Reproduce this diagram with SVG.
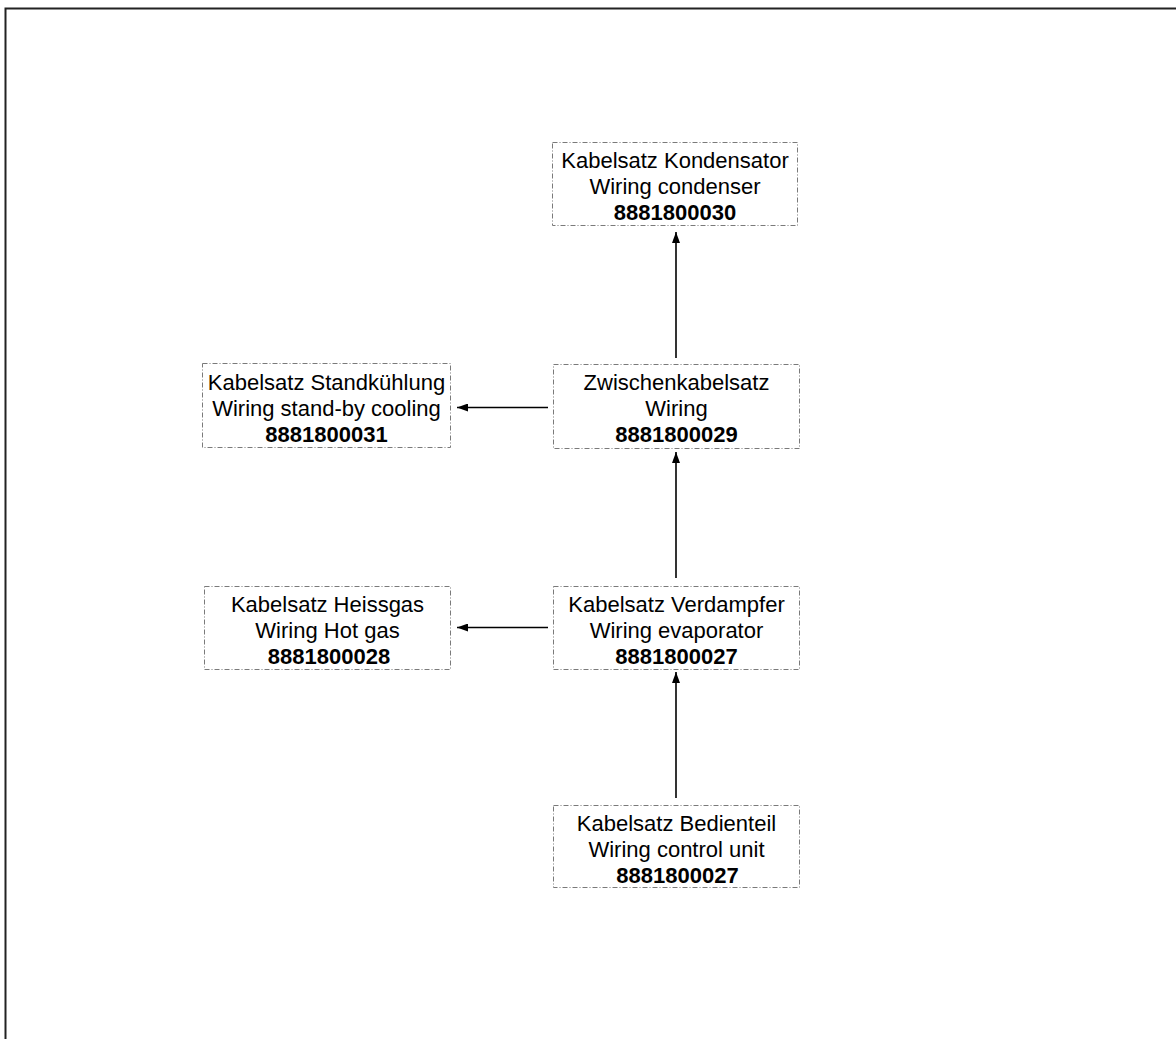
<svg xmlns="http://www.w3.org/2000/svg" width="1176" height="1039" viewBox="0 0 1176 1039">
  <style>
    .box { fill: #ffffff; stroke: #7a7a7a; stroke-width: 1; stroke-dasharray: 5 2 1 2; }
    .t { font-family: "Liberation Sans", Arial, sans-serif; font-size: 22px; fill: #000; text-anchor: middle; }
    .n { font-weight: bold; }
    .wire { stroke: #000; stroke-width: 1.6; fill: none; marker-end: url(#arrow); }
  </style>
  <defs>
    <marker id="arrow" viewBox="0 0 11 8" refX="11" refY="4" markerWidth="11" markerHeight="8" markerUnits="userSpaceOnUse" orient="auto">
      <path d="M0,0 L11,4 L0,8 Z" fill="#000"/>
    </marker>
  </defs>

  <rect width="1176" height="1039" fill="#ffffff"/>
  <!-- sheet frame -->
  <path d="M5.5,1039 L5.5,8.5 L1176,8.5" fill="none" stroke="#222" stroke-width="2"/>

  <g id="connectors">
    <line class="wire" x1="676" y1="358" x2="676" y2="232"/>
    <line class="wire" x1="676" y1="578" x2="676" y2="452"/>
    <line class="wire" x1="676" y1="798" x2="676" y2="672"/>
    <line class="wire" x1="548" y1="407.5" x2="457" y2="407.5"/>
    <line class="wire" x1="548" y1="627.5" x2="457" y2="627.5"/>
  </g>

  <g id="kondensator">
    <rect class="box" x="552.5" y="142.5" width="245" height="83"/>
    <text class="t" x="675" y="168">Kabelsatz Kondensator</text>
    <text class="t" x="675" y="194">Wiring condenser</text>
    <text class="t n" x="675" y="220">8881800030</text>
  </g>

  <g id="standkuehlung">
    <rect class="box" x="202.5" y="363.5" width="248" height="84"/>
    <text class="t" x="326.5" y="390">Kabelsatz Standkühlung</text>
    <text class="t" x="326.5" y="416">Wiring stand-by cooling</text>
    <text class="t n" x="326.5" y="442">8881800031</text>
  </g>

  <g id="zwischen">
    <rect class="box" x="553.5" y="364.5" width="246" height="84"/>
    <text class="t" x="676.5" y="390">Zwischenkabelsatz</text>
    <text class="t" x="676.5" y="416">Wiring</text>
    <text class="t n" x="676.5" y="442">8881800029</text>
  </g>

  <g id="heissgas">
    <rect class="box" x="204.5" y="586.5" width="246" height="83"/>
    <text class="t" x="327.5" y="612">Kabelsatz Heissgas</text>
    <text class="t" x="327.5" y="638">Wiring Hot gas</text>
    <text class="t n" x="329" y="664">8881800028</text>
  </g>

  <g id="verdampfer">
    <rect class="box" x="553.5" y="586.5" width="246" height="83"/>
    <text class="t" x="676.5" y="612">Kabelsatz Verdampfer</text>
    <text class="t" x="676.5" y="638">Wiring evaporator</text>
    <text class="t n" x="676.5" y="664">8881800027</text>
  </g>

  <g id="bedienteil">
    <rect class="box" x="553.5" y="805.5" width="246" height="82"/>
    <text class="t" x="676.5" y="831">Kabelsatz Bedienteil</text>
    <text class="t" x="676.5" y="857">Wiring control unit</text>
    <text class="t n" x="677.5" y="883">8881800027</text>
  </g>
</svg>
